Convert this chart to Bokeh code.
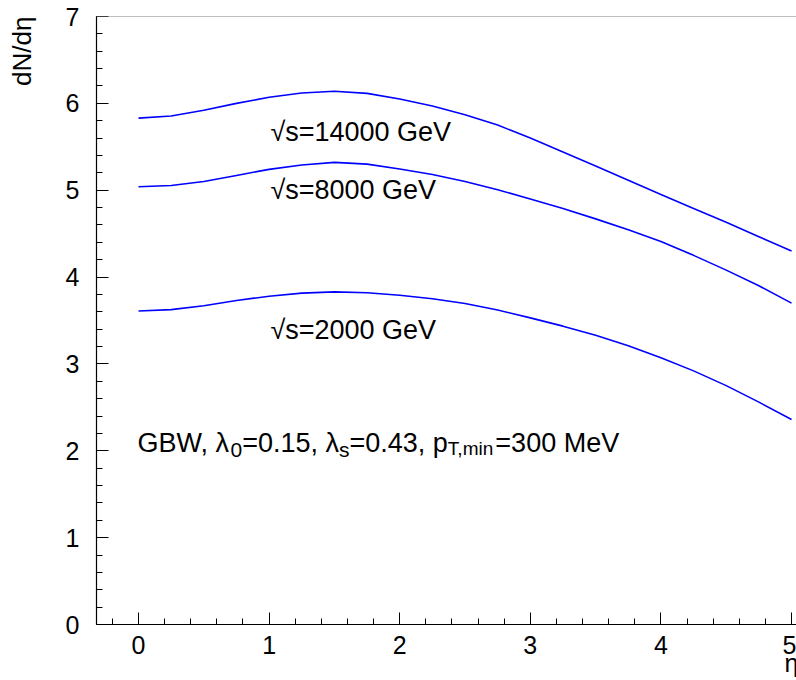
import math
from bokeh.plotting import figure
from bokeh.models import Range1d, SingleIntervalTicker, Label, Span, Title
from bokeh.embed import file_html
from bokeh.resources import INLINE

eta = [0.0, 0.25, 0.5, 0.75, 1.0, 1.25, 1.5, 1.75, 2.0, 2.25, 2.5, 2.75, 3.0,
       3.25, 3.5, 3.75, 4.0, 4.25, 4.5, 4.75, 5.0]
dndeta_14000 = [5.83, 5.855, 5.92, 6.00, 6.07, 6.12, 6.14, 6.115, 6.05, 5.97, 5.87, 5.75, 5.60,
                5.44, 5.28, 5.115, 4.95, 4.79, 4.63, 4.465, 4.30]
dndeta_8000 = [5.04, 5.055, 5.10, 5.17, 5.24, 5.29, 5.32, 5.30, 5.245, 5.18, 5.10, 5.005, 4.90,
               4.79, 4.67, 4.545, 4.41, 4.25, 4.08, 3.90, 3.70]
dndeta_2000 = [3.61, 3.625, 3.67, 3.73, 3.78, 3.815, 3.83, 3.82, 3.79, 3.75, 3.695, 3.62, 3.53,
               3.435, 3.33, 3.21, 3.07, 2.92, 2.75, 2.56, 2.36]
curve_labels = ["\u221as=14000 GeV", "\u221as=8000 GeV", "\u221as=2000 GeV"]
label_eta = [1.01, 1.01, 1.01]
label_y = [5.67, 5.005, 3.39]
x_title = "\u03b7"
y_title = "dN/d\u03b7"

FONT = "Liberation Sans"

p = figure(width=796, height=680, output_backend="svg", toolbar_location=None,
           x_range=Range1d(-0.3216, 5.038), y_range=Range1d(0, 7),
           min_border_left=96, min_border_right=0, min_border_top=16, min_border_bottom=56)
p.outline_line_color = None
p.grid.visible = False
p.background_fill_color = "white"
p.border_fill_color = "white"

for ax in (p.xaxis[0], p.yaxis[0]):
    ax.ticker = SingleIntervalTicker(interval=1, num_minor_ticks=5)
    ax.major_tick_in = 12
    ax.major_tick_out = 0
    ax.minor_tick_in = 6
    ax.minor_tick_out = 0
    ax.axis_line_color = "black"
    ax.axis_line_width = 1.2
    ax.major_tick_line_color = "black"
    ax.minor_tick_line_color = "black"
    ax.major_label_text_font = FONT
    ax.major_label_text_font_size = "25px"
    ax.major_label_text_color = "black"
p.xaxis.major_label_standoff = 11
p.yaxis.major_label_standoff = 17

p.add_layout(Span(location=7, dimension="width", line_color="#808080", line_width=1.2))

for ys in (dndeta_14000, dndeta_8000, dndeta_2000):
    p.line(eta, ys, line_color="#0000ff", line_width=1.6)

for txt, lx, ly in zip(curve_labels, label_eta, label_y):
    p.add_layout(Label(x=lx, y=ly, text=txt, text_font=FONT, text_font_size="27px",
                       text_baseline="alphabetic", text_align="left", text_color="black"))

# GBW annotation composed of pieces (main text + subscripts)
px_per_x = 700 / (5.038 + 0.3216)
def xd(px):
    return (px - 138) / px_per_x
def yd(py):
    return (624 - py) / (608 / 7)

ADV = {"G": 0.778, "B": 0.667, "W": 0.944, ",": 0.278, " ": 0.278, "\u03bb": 0.5,
       "=": 0.584, ".": 0.278, "p": 0.556, "M": 0.833, "e": 0.556, "V": 0.667,
       "s": 0.5, "T": 0.611, "m": 0.833, "i": 0.222, "n": 0.556}
def adv(t, fs):
    return sum(ADV.get(c, 0.556) for c in t) * fs

pieces = [
    ("GBW, \u03bb", 27, 442.5),
    ("0", 21, 449.3),
    ("=0.15, \u03bb", 27, 442.5),
    ("s", 21, 449.3),
    ("=0.43, p", 27, 442.5),
    ("T,min", 19, 448.0),
    ("=300 MeV", 27, 442.5),
]
xcur = 137.0
for txt, fs, ypx in pieces:
    p.add_layout(Label(x=xd(xcur), y=yd(ypx), text=txt, text_font=FONT, text_font_size=f"{fs}px",
                       text_baseline="alphabetic", text_align="left", text_color="black"))
    xcur += adv(txt, fs)

# y-axis title at the top end of the axis
p.add_layout(Title(text=y_title + "\n\u00a0", align="right", text_font=FONT, text_font_size="26px",
                   text_font_style="normal", text_color="black", standoff=0,
                   text_line_height=0.85), "left")
# x-axis title at the right end of the axis, partly below the page edge as in the original
p.add_layout(Title(text=x_title, align="right", vertical_align="top", text_font=FONT,
                   text_font_size="25px", text_font_style="normal", text_color="black",
                   standoff=-16, offset=-2), "below")

open("out.html", "w").write(file_html(p, INLINE))
